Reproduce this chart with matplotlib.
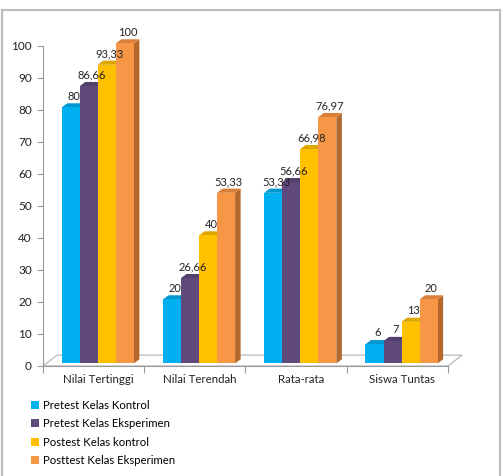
import numpy as np
import matplotlib
matplotlib.use("Agg")
import matplotlib.pyplot as plt
from matplotlib.patches import Polygon, Rectangle, Patch

plt.rcParams['font.family'] = ['Lato', 'DejaVu Sans']

# data
categories = ["Nilai Tertinggi", "Nilai Terendah", "Rata-rata", "Siswa Tuntas"]
series_names = ["Pretest Kelas Kontrol", "Pretest Kelas Eksperimen",
                "Postest Kelas kontrol", "Posttest Kelas Eksperimen"]
pretest_kontrol = [80, 20, 53.33, 6]
pretest_eksperimen = [86.66, 26.66, 56.66, 7]
postest_kontrol = [93.33, 40, 66.98, 13]
posttest_eksperimen = [100, 53.33, 76.97, 20]
labels = [["80", "20", "53,33", "6"],
          ["86,66", "26,66", "56,66", "7"],
          ["93,33", "40", "66,98", "13"],
          ["100", "53,33", "76,97", "20"]]
values = [pretest_kontrol, pretest_eksperimen, postest_kontrol, posttest_eksperimen]

front = ["#00B0F0", "#604A7B", "#FFC000", "#F79646"]
side = ["#0083B5", "#45355A", "#C29200", "#B5682C"]
top = ["#0096CE", "#52406A", "#DDA700", "#D97F3A"]

W, H = 503, 476
fig = plt.figure(figsize=(W / 100, H / 100), dpi=100)
ax = fig.add_axes([43 / W, 1 - 366 / H, (448 - 43) / W, (366 - 46) / H])
ax.set_xlim(0, 4)
ax.set_ylim(0, 100)

# 3d depth in data units
dx, dy = 0.055, 1.3
base = 0.8
bw = 0.178
off = 0.185

# floor
fx, fy = 0.14, 3.4
ax.add_patch(Polygon([(0, 0), (4, 0), (4 + fx, fy), (fx, fy)], closed=True,
                     facecolor="white", edgecolor="#BFBFBF", lw=1, clip_on=False, zorder=1))

for i in range(len(categories)):
    for j in range(4):
        v = values[j][i]
        x0 = i + off + j * bw
        x1 = x0 + bw
        ax.add_patch(Polygon([(x1, base), (x1 + dx, base + dy), (x1 + dx, v + base + dy), (x1, v + base)],
                             closed=True, facecolor=side[j], edgecolor="none", clip_on=False, zorder=2))
        ax.add_patch(Polygon([(x0, v + base), (x0 + dx, v + base + dy), (x1 + dx, v + base + dy), (x1, v + base)],
                             closed=True, facecolor=top[j], edgecolor="none", clip_on=False, zorder=2))
        ax.bar(x0, v, width=bw, bottom=base, align="edge", color=front[j], zorder=2, clip_on=False)
        ax.text(x0 + bw / 2 + dx / 2, v + base + dy + 0.5, labels[j][i], ha="center", va="bottom",
                fontsize=8, color="#222222", zorder=3)

for s in ["top", "right"]:
    ax.spines[s].set_visible(False)
ax.spines["left"].set_color("#999999")
ax.spines["bottom"].set_color("#999999")
ax.set_yticks(np.arange(0, 101, 10))
ax.tick_params(axis="y", labelsize=8.5, length=4, color="#999999", labelcolor="#222222", pad=4)
ax.set_xticks(np.arange(0, 5))
ax.set_xticklabels([])
ax.tick_params(axis="x", length=5, color="#999999")
for i, c in enumerate(categories):
    ax.text(i + 0.55, -2.6, c, ha="center", va="top", fontsize=8.3, color="#222222",
            transform=ax.transData)

handles = [Patch(facecolor=front[j], edgecolor="none") for j in range(4)]
fig.legend(handles, series_names, loc="upper left", bbox_to_anchor=(25 / W, 1 - 394 / H),
           frameon=False, fontsize=8.2, handlelength=0.7, handleheight=0.7,
           handletextpad=0.4, labelspacing=0.65, borderpad=0)

fig.patches.append(Rectangle((1.5 / W, -0.05), 498 / W, 1 - 9.5 / H + 0.05,
                             transform=fig.transFigure, fill=False,
                             edgecolor="#BBBBBB", lw=1.5))

fig.savefig("out.png", dpi=100)
